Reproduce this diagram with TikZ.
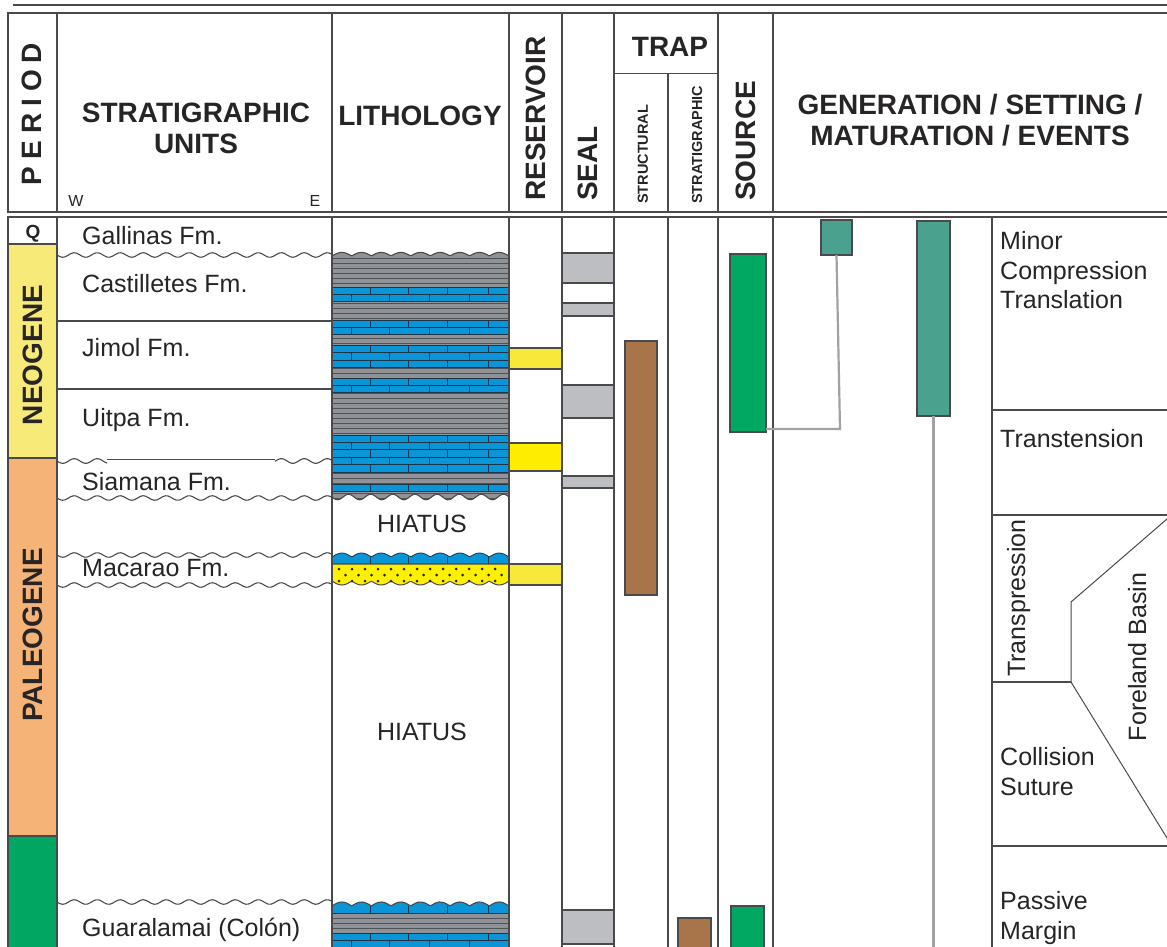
\documentclass[tikz,border=0pt]{standalone}
\usepackage{fontspec}
\setmainfont{Liberation Sans}
\definecolor{ln}{HTML}{4A4A4C}
\definecolor{txt}{HTML}{262425}
\definecolor{neo}{HTML}{F7EA78}
\definecolor{paleo}{HTML}{F5B377}
\definecolor{cret}{HTML}{00A661}
\definecolor{srcg}{HTML}{00A862}
\definecolor{tealg}{HTML}{4AA18E}
\definecolor{brownt}{HTML}{A8754A}
\definecolor{sealg}{HTML}{BCBEC1}
\definecolor{limeb}{HTML}{0A95D7}
\definecolor{limel}{HTML}{1E3448}
\definecolor{shaleg}{HTML}{8F9398}
\definecolor{shalel}{HTML}{4F5358}
\definecolor{resy}{HTML}{F7E83A}
\definecolor{resyy}{HTML}{FFED00}
\definecolor{sandy}{HTML}{FFF000}
\definecolor{conng}{HTML}{A0A2A5}
\tikzset{
 frame/.style={draw=ln, line width=1.3pt},
 thinframe/.style={draw=ln, line width=1.0pt},
 wave/.style={draw=ln, line width=1.1pt},
 barst/.style={draw=ln, line width=1.2pt, inner sep=0pt, outer sep=0pt, rectangle},
 conn/.style={draw=conng, line width=2.2pt},
 hdr/.style={font=\fontsize{28}{31}\selectfont\bfseries, text=txt, inner sep=0pt},
 hdrsmall/.style={font=\fontsize{14.5}{16}\selectfont\bfseries, text=txt, inner sep=0pt},
 unit/.style={font=\fontsize{25}{29.7}\selectfont, text=txt, inner sep=0pt, anchor=base west},
 evt/.style={font=\fontsize{25}{29.7}\selectfont, text=txt, inner sep=0pt, anchor=north west, align=left},
 limest/.style={fill=limeb, draw=limel, line width=0.8pt},
 shl/.style={draw=shalel, line width=1.0pt},
}
\newcommand\lrow[3]{%
 \path[limest] (332,#1) rectangle (509,#1+#2);
 \ifnum#3=0\relax
  \foreach \jx in {370,408,447,488}{\draw[limel,line width=0.9pt] (\jx,#1) -- (\jx,#1+#2);}
 \else
  \foreach \jx in {351,389,429,469}{\draw[limel,line width=0.9pt] (\jx,#1) -- (\jx,#1+#2);}
 \fi}
\newcommand\barbox[6]{\node[barst, fill=#6, minimum width={(#4-#2)*1pt}, minimum height={(#5-#3)*1pt}] (#1) at ({(#2+#4)/2},{(#3+#5)/2}) {};}
\newcommand\wav[3]{\draw[wave] plot[domain=#1:#2,samples=100] (\x,{#3+2.3*sin((\x-57)*15.65)});}
\begin{document}
\begin{tikzpicture}[x=1pt,y=-1pt]
\useasboundingbox (0,0) rectangle (1167,947);
\clip (0,0) rectangle (1167,947);

% period column fills
\fill[neo] (8,244) rectangle (57,458);
\fill[paleo] (8,458) rectangle (57,836);
\fill[cret] (8,836) rectangle (57,950);

% lithology: upper stack
\begin{scope}
\clip plot[domain=332:509,samples=90] (\x,{256-3.6*abs(sin((\x-332)*9.153))}) -- plot[domain=509:332,samples=90] (\x,{497+2.8*sin((\x-332)*16.27)}) -- cycle;
\fill[shaleg] (330,240) rectangle (511,510);
\foreach \yy in {258,263,...,503} \draw[shl] (332,\yy) -- (509,\yy);
\lrow{287}{7}{0} \lrow{294}{7}{1}
\lrow{320}{7}{0} \lrow{327}{7}{1}
\lrow{345}{7.6}{0} \lrow{352.6}{7.6}{1} \lrow{360.2}{7.6}{0}
\lrow{378}{7}{0} \lrow{385}{7}{1}
\lrow{435}{7.4}{0} \lrow{442.4}{7.4}{1} \lrow{449.8}{7.4}{0} \lrow{457.2}{7.4}{1} \lrow{464.6}{7.4}{0}
\lrow{484}{7}{0}
\end{scope}
\draw[wave] plot[domain=332:509,samples=90] (\x,{256-3.6*abs(sin((\x-332)*9.153))});
\draw[wave] plot[domain=332:509,samples=90] (\x,{497+2.8*sin((\x-332)*16.27)});

% lithology: Macarao
\path[limest] plot[domain=332:509,samples=90] (\x,{557-4*abs(sin((\x-332)*9.153))}) -- (509,564) -- (332,564) -- cycle;
\foreach \jx in {370,408,447,488} \draw[limel,line width=0.9pt] (\jx,557) -- (\jx,564);
\path[fill=sandy, draw=ln, line width=1pt] (332,564) -- (509,564) -- plot[domain=509:332,samples=90] (\x,{581+4*abs(sin((\x-332)*9.153))}) -- cycle;
\foreach \dx in {339,352,...,505} {\fill[txt] (\dx,569) circle (1.5); \fill[txt] (\dx,581) circle (1.5);}
\foreach \dx in {345.5,358.5,...,505} \fill[txt] (\dx,575) circle (1.5);

% lithology: lower stack
\begin{scope}
\clip plot[domain=332:509,samples=90] (\x,{906-4*abs(sin((\x-332)*9.153))}) -- (509,950) -- (332,950) -- cycle;
\fill[shaleg] (330,895) rectangle (511,950);
\foreach \yy in {918,923,928} \draw[shl] (332,\yy) -- (509,\yy);
\path[limest] (332,895) rectangle (509,913);
\foreach \jx in {370,408,447,488} \draw[limel,line width=0.9pt] (\jx,906) -- (\jx,913);
\lrow{933}{7}{0} \lrow{940}{7}{1}
\end{scope}
\draw[wave] plot[domain=332:509,samples=90] (\x,{906-4*abs(sin((\x-332)*9.153))});

% header frame
\draw[ln, line width=2.2pt] (13,5) -- (1170,5);
\draw[frame] (1170,13) -- (8,13) -- (8,212) -- (1170,212);
\foreach \cx in {57,332,509,562,614,718,773} \draw[frame] (\cx,13) -- (\cx,212);
\draw[thinframe] (614,74) -- (718,74);
\draw[frame] (668,74) -- (668,212);

% body frame
\draw[frame] (1170,217) -- (8,217) -- (8,950);
\foreach \cx in {57,332,509,562,614,668,718,773,992} \draw[frame] (\cx,217) -- (\cx,950);
\draw[frame] (8,244) -- (57,244);
\draw[frame] (8,458) -- (57,458);
\draw[frame] (8,836) -- (57,836);

% stratigraphic boundaries
\wav{57}{332}{255}
\draw[frame] (57,321) -- (332,321);
\draw[frame] (57,389) -- (332,389);
\wav{57}{107}{461}
\draw[wave] (107,459.5) -- (275,459.5);
\wav{275}{332}{461}
\wav{57}{332}{498}
\wav{57}{332}{555}
\wav{57}{332}{585}
\wav{57}{332}{902}

% bars
\barbox{res1}{509}{348}{562}{369}{resy}
\barbox{res2}{509}{443}{562}{471}{resyy}
\barbox{res3}{509}{564}{562}{585}{resy}
\barbox{seal1}{562}{253}{614}{283}{sealg}
\barbox{seal2}{562}{303}{614}{316}{sealg}
\barbox{seal3}{562}{385}{614}{418}{sealg}
\barbox{seal4}{562}{476}{614}{488}{sealg}
\barbox{seal5}{562}{910}{614}{944}{sealg}
\barbox{trap1}{625}{341}{657}{595}{brownt}
\barbox{trap2}{678}{918}{711}{955}{brownt}
\barbox{src1}{730}{254}{766}{432}{srcg}
\barbox{src2}{731}{906}{764}{955}{srcg}
\barbox{gen1}{821}{220}{852}{255}{tealg}
\barbox{gen2}{917}{221}{950}{416}{tealg}

% connectors
\coordinate (genbend) at (840,429);
\coordinate (genend) at (933.5,950);
\draw[conn] (gen1.south) -- (genbend) -- (src1.east |- genbend);
\draw[conn] (gen2.south) -- (genend);

% events column
\draw[frame] (992,410) -- (1170,410);
\draw[frame] (992,515) -- (1170,515);
\draw[frame] (992,682) -- (1071,682);
\draw[frame] (992,846) -- (1170,846);
\draw[thinframe] (1170,516.4) -- (1071,602) -- (1071,682) -- (1170,842.9);

% header texts
\node[hdr, rotate=90] (hPeriod) at (32,114) {\addfontfeature{LetterSpace=25}PERIOD};
\node[hdr, align=center] (hStrat) at (196,128) {STRATIGRAPHIC\\UNITS};
\node[font=\fontsize{16}{18}\selectfont, text=txt, inner sep=0pt] (hW) at (76,201) {W};
\node[font=\fontsize{16}{18}\selectfont, text=txt, inner sep=0pt] (hE) at (315,201) {E};
\node[hdr] (hLith) at (420,116) {LITHOLOGY};
\node[hdr, rotate=90, anchor=west] (hRes) at (536,201) {RESERVOIR};
\node[hdr, rotate=90, anchor=west] (hSeal) at (588,201) {SEAL};
\node[hdr] (hTrap) at (670,47) {TRAP};
\node[hdrsmall, rotate=90, anchor=west] (hStruct) at (643,204) {STRUCTURAL};
\node[hdrsmall, rotate=90, anchor=west] (hStratT) at (697,204) {STRATIGRAPHIC};
\node[hdr, rotate=90, anchor=west] (hSrc) at (746,201) {SOURCE};
\node[hdr, align=center] (hGen) at (970,120) {GENERATION / SETTING /\\MATURATION / EVENTS};

% period labels
\node[font=\fontsize{19}{21}\selectfont\bfseries, text=txt, inner sep=0pt, anchor=base] (pQ) at (33,238) {Q};
\node[hdr, rotate=90] (pNeo) at (33,355) {NEOGENE};
\node[hdr, rotate=90] (pPaleo) at (33,635) {PALEOGENE};

% unit names
\node[unit] (uGal) at (82,244) {Gallinas Fm.};
\node[unit] (uCas) at (82,292) {Castilletes Fm.};
\node[unit] (uJim) at (82,356) {Jimol Fm.};
\node[unit] (uUit) at (82,426) {Uitpa Fm.};
\node[unit] (uSia) at (82,490) {Siamana Fm.};
\node[unit] (uMac) at (82,576) {Macarao Fm.};
\node[unit] (uGua) at (82,936) {Guaralamai (Colón)};
\node[unit, anchor=base] (hia1) at (422,532) {HIATUS};
\node[unit, anchor=base] (hia2) at (422,740) {HIATUS};

% events
\node[evt] (eMinor) at (1000,231) {Minor\\Compression\\Translation};
\node[evt] (eTranst) at (1000,429) {Transtension};
\node[unit, rotate=90, anchor=base] (eTransp) at (1025,598) {Transpression};
\node[unit, rotate=90, anchor=base] (eFore) at (1146,657) {Foreland Basin};
\node[evt] (eColl) at (1000,747) {Collision\\Suture};
\node[evt] (ePass) at (1000,891) {Passive\\Margin};
\end{tikzpicture}
\end{document}
